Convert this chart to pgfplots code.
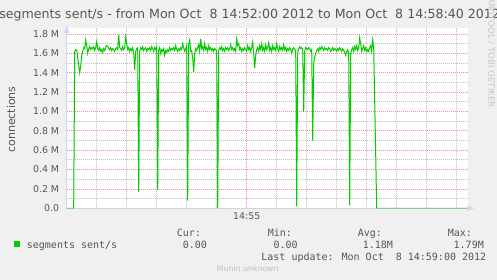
\documentclass[border=0pt]{standalone}
\usepackage{pgfplots}
\pgfplotsset{compat=1.18}
\usepackage{fontspec}
\setmainfont{DejaVu Sans}
\newfontfamily\monofont{DejaVu Sans Mono}
\definecolor{bg}{HTML}{F0F0F0}
\definecolor{txt}{HTML}{555555}
\definecolor{axiscol}{HTML}{CFD6F8}
\definecolor{lgreen}{HTML}{00CC00}
\definecolor{mgrid}{RGB}{235,150,150}
\definecolor{ngrid}{RGB}{195,195,195}
\begin{document}
\begin{tikzpicture}[x=1pt,y=1pt]
\path[use as bounding box] (0,0) rectangle (497,280);
\fill[bg] (0,0) rectangle (497,280);
\begin{axis}[
  at={(66.7pt,71.7pt)}, anchor=south west,
  scale only axis, width=401pt, height=180.3pt,
  xmin=0, xmax=401, ymin=0, ymax=1.8626,
  axis background/.style={fill=white},
  axis line style={draw=none},
  major tick length=0pt, minor tick length=0pt,
  xtick={180}, xticklabels={14:55},
  minor xtick={30,60,90,120,150,210,240,270,300,330,360,390},
  ytick={0,0.2,0.4,0.6,0.8,1.0,1.2,1.4,1.6,1.8},
  yticklabels={0.0,0.2 M,0.4 M,0.6 M,0.8 M,1.0 M,1.2 M,1.4 M,1.6 M,1.8 M},
  minor ytick={0.1,0.3,0.5,0.7,0.9,1.1,1.3,1.5,1.7},
  grid=both,
  major grid style={color=mgrid, dash pattern=on 1pt off 1pt, line width=0.8pt},
  minor grid style={color=ngrid, dash pattern=on 1pt off 1pt, line width=0.8pt},
  ticklabel style={font=\fontsize{9.4}{11}\selectfont, text=txt, inner sep=0pt},
  yticklabel style={anchor=east, xshift=-7.4pt},
  xticklabel style={anchor=base, yshift=-11.2pt},
  /pgf/number format/assume math mode=true,
  clip=false,
]
\addplot[color=lgreen, line width=1pt, mark=none] coordinates {
(0,0) (7,0) (8,1.62) (9,1.64) (10,1.63) (11,1.56) (13,1.40) (14,1.47) (15,1.58) (16,1.62)
(17,1.66) (18,1.65) (19,1.74) (20,1.68) (21,1.60) (22,1.65) (23,1.67) (24,1.64) (25,1.66) (26,1.65)
(27,1.67) (28,1.63) (29,1.66) (30,1.72) (31,1.65) (32,1.63) (33,1.66) (34,1.62) (35,1.64) (36,1.61)
(37,1.65) (38,1.63) (39,1.66) (40,1.68) (41,1.67) (42,1.65) (43,1.64) (44,1.66) (45,1.63) (46,1.65)
(47,1.64) (48,1.62) (49,1.65) (50,1.66) (51,1.64) (52,1.79) (53,1.66) (54,1.65) (55,1.63) (56,1.67)
(57,1.64) (58,1.66) (59,1.77) (60,1.70) (61,1.64) (62,1.66) (63,1.62) (64,1.65) (65,1.63) (66,1.66)
(67,1.60) (68,1.43) (69,1.62) (70,1.65) (71,1.66) (72,0.17) (73,1.62) (74,1.66) (75,1.64) (76,1.67)
(77,1.63) (78,1.65) (79,1.66) (80,1.62) (81,1.65) (82,1.64) (83,1.66) (84,1.63) (85,1.67) (86,1.65)
(87,1.62) (88,1.66) (89,1.64) (90,1.67) (91,0.19) (92,1.63) (93,1.66) (94,1.60) (95,1.64) (96,1.62)
(97,1.65) (98,1.58) (99,1.63) (100,1.61) (101,1.64) (102,1.62) (103,1.66) (104,1.63) (105,1.65) (106,1.64)
(107,1.66) (108,1.63) (109,1.68) (110,1.64) (111,1.62) (112,1.65) (113,1.63) (114,1.66) (115,1.64) (116,1.70)
(117,1.66) (118,1.62) (119,1.65) (120,1.68) (121,0.08) (122,1.70) (123,1.74) (124,1.62) (125,1.63) (126,1.55)
(127,1.41) (128,1.60) (129,1.65) (130,1.63) (131,1.66) (132,1.69) (133,1.62) (134,1.75) (135,1.65) (136,1.67)
(137,1.63) (138,1.70) (139,1.64) (140,1.66) (141,1.62) (142,1.68) (143,1.64) (144,1.66) (145,1.63) (146,1.65)
(147,1.62) (148,1.65) (149,1.64) (150,1.62) (151,0.00) (152,1.63) (153,1.66) (154,1.64) (155,1.67) (156,1.63)
(157,1.65) (158,1.62) (159,1.66) (160,1.64) (161,1.66) (162,1.63) (163,1.65) (164,1.69) (165,1.64) (166,1.66)
(167,1.63) (168,1.65) (169,1.62) (170,1.75) (171,1.68) (172,1.70) (173,1.64) (174,1.66) (175,1.62) (176,1.65)
(177,1.63) (178,1.66) (179,1.64) (180,1.62) (181,1.68) (182,1.64) (183,1.66) (184,1.62) (185,1.66) (186,1.72)
(187,1.60) (188,1.45) (189,1.58) (190,1.64) (191,1.66) (192,1.62) (193,1.68) (194,1.64) (195,1.70) (196,1.63)
(197,1.66) (198,1.62) (199,1.69) (200,1.64) (201,1.66) (202,1.71) (203,1.63) (204,1.66) (205,1.62) (206,1.68)
(207,1.64) (208,1.66) (209,1.63) (210,1.70) (211,1.65) (212,1.62) (213,1.67) (214,1.64) (215,1.66) (216,1.63)
(217,1.69) (218,1.64) (219,1.66) (220,1.62) (221,1.65) (222,1.63) (223,1.66) (224,1.64) (225,1.60) (226,1.65)
(227,1.66) (228,1.64) (229,1.63) (230,0.02) (231,1.60) (232,1.65) (233,1.67) (234,1.65) (235,1.66) (236,1.64)
(237,1.00) (238,1.62) (239,1.66) (240,1.65) (241,1.64) (242,1.66) (243,1.65) (244,1.62) (245,1.64) (246,0.70)
(247,1.50) (248,1.56) (249,1.60) (250,1.63) (251,1.65) (252,1.62) (253,1.66) (254,1.64) (255,1.67) (256,1.65)
(257,1.63) (258,1.66) (259,1.64) (260,1.65) (261,1.63) (262,1.66) (263,1.65) (264,1.62) (265,1.64) (266,1.66)
(267,1.63) (268,1.65) (269,1.64) (270,1.62) (271,1.65) (272,1.63) (273,1.66) (274,1.64) (275,1.62) (276,1.65)
(277,1.63) (278,1.61) (279,1.58) (280,1.62) (281,1.64) (282,1.60) (283,0.03) (284,1.60) (285,1.64) (286,1.66)
(287,1.62) (288,1.67) (289,1.64) (290,1.68) (291,1.63) (292,1.66) (293,1.76) (294,1.70) (295,1.62) (296,1.65)
(297,1.68) (298,1.63) (299,1.66) (300,1.62) (301,1.64) (302,1.62) (303,1.66) (304,1.68) (305,1.62) (306,1.74)
(307,1.66) (310,0.00) (401,0.00)
};
\end{axis}
% axes with arrows
\draw[axiscol, opacity=0.6, line width=1pt] (66.7,71.7) -- (468,71.7);
\draw[axiscol, line width=1pt] (66.7,71.7) -- (66.7,248);
\fill[axiscol] (63.7,247) -- (69.7,247) -- (66.7,254) -- cycle;
\fill[axiscol] (467.5,68.7) -- (467.5,74.7) -- (474,71.7) -- cycle;
% title
\node[anchor=base west, inner sep=0, text=txt, font=\fontsize{12.6}{14}\selectfont] at (-0.8,261.7)
  {segments sent/s - from Mon Oct~~8 14:52:00 2012 to Mon Oct~~8 14:58:40 2012};
% watermark
\node[anchor=base east, inner sep=0, rotate=-90, text=black!22, font=\fontsize{8.6}{9}\selectfont] at (488.3,172)
  {RRDTOOL / TOBI OETIKER};
% y label
\node[rotate=90, inner sep=0, text=txt, font=\fontsize{11}{13}\selectfont] at (11,160.5) {connections};
% legend
\fill[lgreen] (13.5,33) rectangle (19.5,39);
\begin{scope}[every node/.style={anchor=base west, inner sep=0, text=txt, font=\monofont\fontsize{10}{12}\selectfont}]
\node at (26.7,31.7) {segments sent/s};
\node at (176.7,43.3) {Cur:};
\node at (267.7,43.3) {Min:};
\node at (357.7,43.3) {Avg:};
\node at (447.7,43.3) {Max:};
\node at (182.7,31.7) {0.00};
\node at (273.3,31.7) {0.00};
\node at (362.7,31.7) {1.18M};
\node at (453.5,31.7) {1.79M};
\node at (261.2,19) {Last update: Mon Oct~~8 14:59:00 2012};
\end{scope}
\node[anchor=base west, inner sep=0, text=black!25, font=\fontsize{7.8}{9}\selectfont] at (216.7,8.3) {Munin unknown};
\end{tikzpicture}
\end{document}
